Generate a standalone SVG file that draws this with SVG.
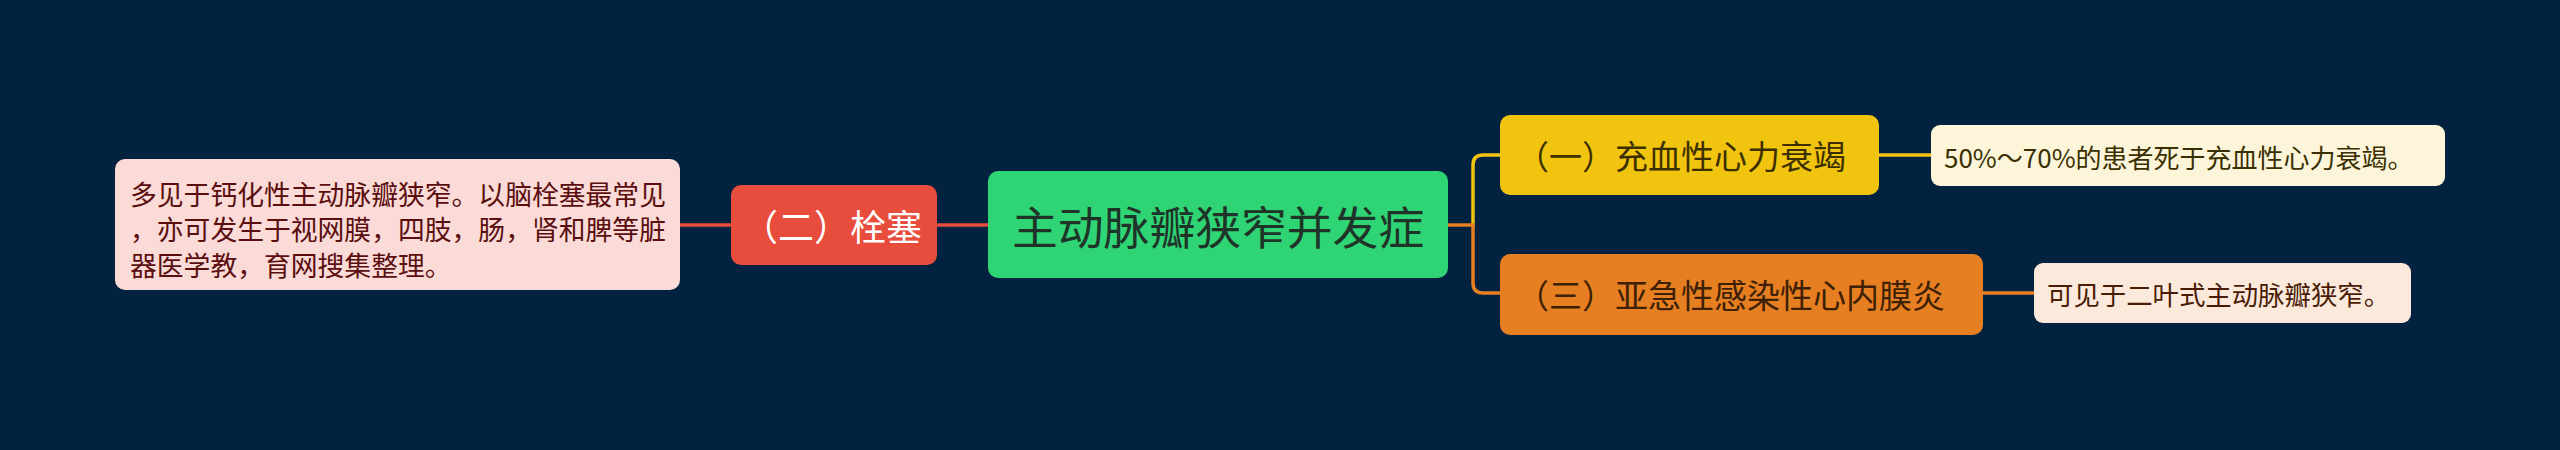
<svg xmlns="http://www.w3.org/2000/svg" width="2560" height="450" viewBox="0 0 2560 450">
<style>
  text { font-family: "Noto Sans CJK SC", "Noto Sans", sans-serif; dominant-baseline: central; }
  .conn { fill: none; stroke-width: 3.5; stroke-linecap: round; stroke-linejoin: round; }
  .red { stroke: #e74c3c; }
  .yel { stroke: #f1c40f; }
  .org { stroke: #e67e22; }
</style>
<rect x="0" y="0" width="2560" height="450" fill="#022240"/>
<g id="connectors">
  <path class="conn red" d="M680,225 H731"/>
  <path class="conn red" d="M937,225 H988"/>
  <path class="conn yel" d="M1473,225 V165 Q1473,155 1483,155 H1500"/>
  <path class="conn org" d="M1448,225 H1473 V283 Q1473,293 1483,293 H1500"/>
  <path class="conn yel" d="M1879,155 H1931"/>
  <path class="conn org" d="M1983,293 H2034"/>
</g>
<g id="root">
  <rect x="988" y="171" width="460" height="107" rx="10" fill="#2fd475"/>
  <text x="1012" y="225" font-size="45.8" fill="#1f3428">主动脉瓣狭窄并发症</text>
</g>
<g id="n2">
  <rect x="731" y="185" width="206" height="80" rx="10" fill="#e74c3c"/>
  <text x="742" y="225" font-size="36" fill="#ffffff">（二）栓塞</text>
</g>
<g id="n2-detail">
  <rect x="115" y="159" width="565" height="131" rx="10" fill="#fadbd8"/>
  <text x="130" y="193" font-size="26.8" fill="#5a0e0e">多见于钙化性主动脉瓣狭窄。以脑栓塞最常见</text>
  <text x="130" y="228.5" font-size="26.8" fill="#5a0e0e">，亦可发生于视网膜，四肢，肠，肾和脾等脏</text>
  <text x="130" y="264" font-size="26.8" fill="#5a0e0e">器医学教，育网搜集整理。</text>
</g>
<g id="n1">
  <rect x="1500" y="115" width="379" height="80" rx="10" fill="#f1c40f"/>
  <text x="1516" y="155" font-size="33" fill="#3d3000">（一）充血性心力衰竭</text>
</g>
<g id="n1-detail">
  <rect x="1931" y="125" width="514" height="61" rx="9" fill="#fdf5d9"/>
  <text x="1944" y="156" font-size="26" fill="#3a2f00">50%～70%的患者死于充血性心力衰竭。</text>
</g>
<g id="n3">
  <rect x="1500" y="254" width="483" height="81" rx="10" fill="#e67e22"/>
  <text x="1516" y="294" font-size="33" fill="#3d2006">（三）亚急性感染性心内膜炎</text>
</g>
<g id="n3-detail">
  <rect x="2034" y="263" width="377" height="60" rx="9" fill="#fbe9dc"/>
  <text x="2047" y="293" font-size="26.4" fill="#4a1c05">可见于二叶式主动脉瓣狭窄。</text>
</g>
</svg>
